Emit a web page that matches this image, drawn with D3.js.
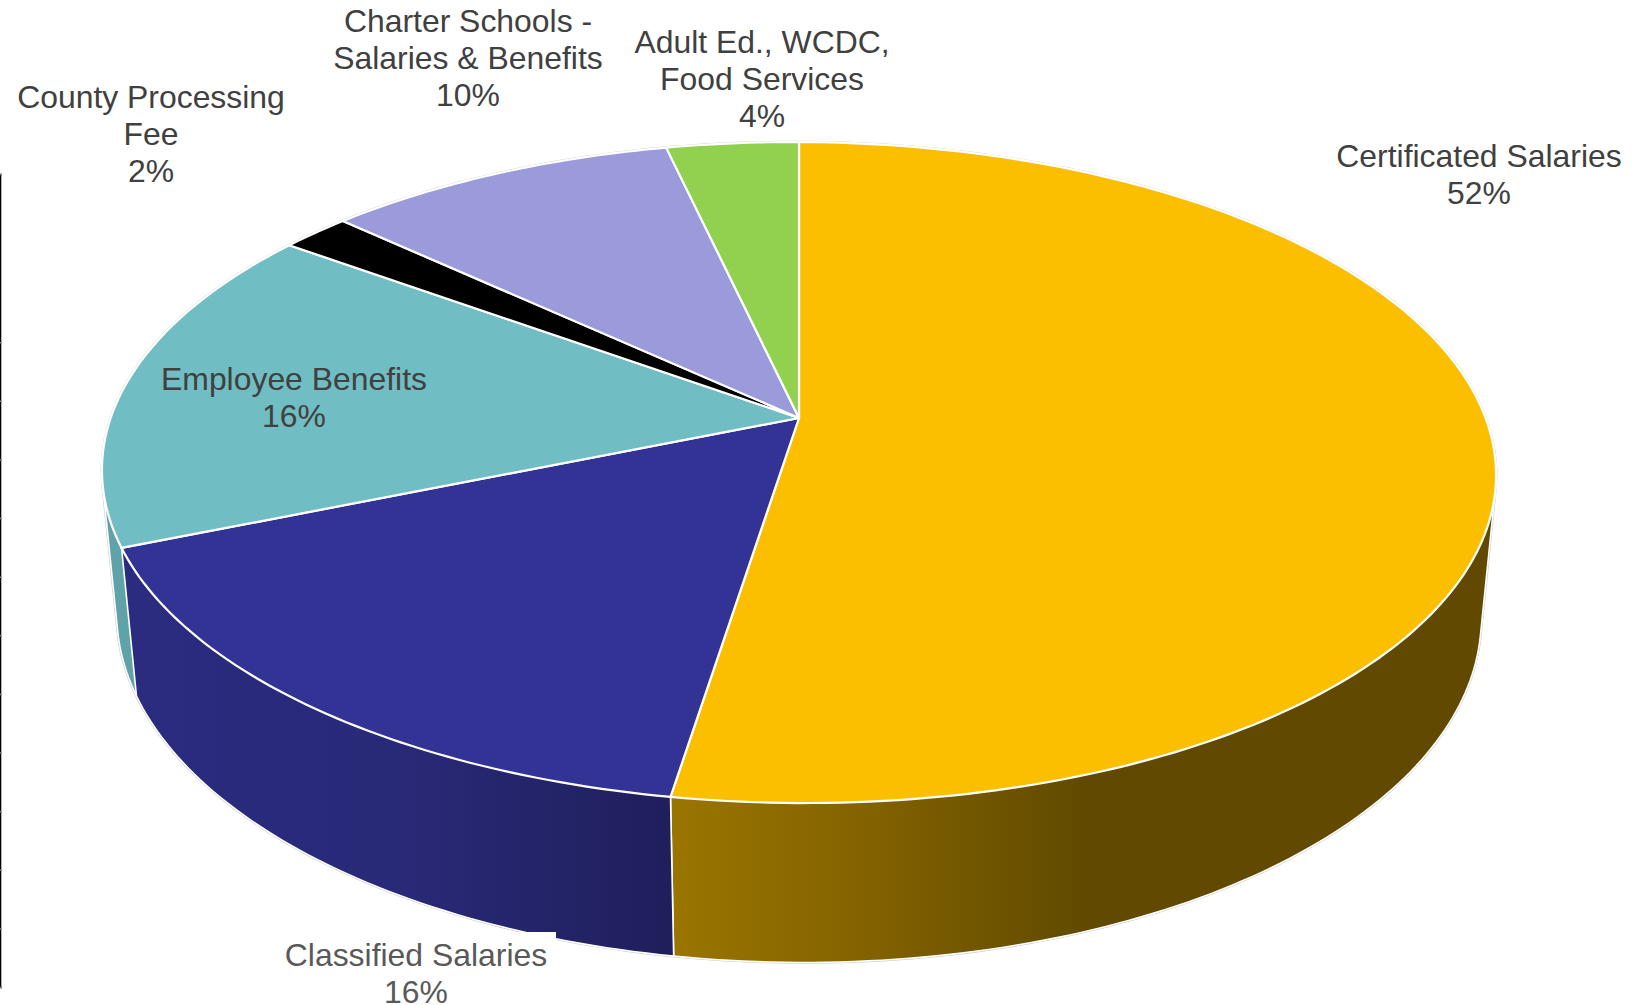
<!DOCTYPE html>
<meta charset="utf-8">
<html>
<head>
<style>
  html, body { margin: 0; padding: 0; background: #fff; }
  svg { display: block; }
  text { font-family: "Liberation Sans", Arial, sans-serif; font-size: 31.9px; text-anchor: middle; }
</style>
</head>
<body>
<div id="chartContainer"></div>
<script src="https://d3js.org/d3.v7.min.js"></script>
<script>
// values, in drawing order (clockwise from 12 o'clock)
var categories = ["Certificated Salaries", "Classified Salaries", "Employee Benefits", "County Processing Fee", "Charter Schools - Salaries & Benefits", "Adult Ed., WCDC, Food Services"];
var shares = [52.5, 16.2, 16.2, 1.9, 9.6, 3.6];
var percentLabels = ["52%", "16%", "16%", "2%", "10%", "4%"];
var labelLines = [
  ["Certificated Salaries"],
  ["Classified Salaries"],
  ["Employee Benefits"],
  ["County Processing", "Fee"],
  ["Charter Schools -", "Salaries & Benefits"],
  ["Adult Ed., WCDC,", "Food Services"]
];
var topColors = ["#fbbf00", "#333396", "#70bdc3", "#000000", "#9b9bdb", "#92d050"];
var labelColors = ["#404040", "#595959", "#404040", "#404040", "#404040", "#404040"];
var labelX = [1479, 416, 294, 151, 468, 762];
var labelY = [167, 966, 390, 108, 32, 90 - 37];
var edgeTicks = [0, 1, 2, 3, 4, 5, 6, 7, 8, 9, 10, 11, 13.87];

var width = 1649, height = 1005;
var svg = d3.select("#chartContainer").append("svg").attr("width", width).attr("height", height);
var defs = svg.append("defs");

// perspective of the 3d pie
var cx = 799, cy = 418, A = 687.5, B = 321.5, C = 144.6, k = 0.165, m = 0.0211, shear = 0.0036;
function project(a, z) {
  var u = Math.sin(a), v = -Math.cos(a), w = 1 - k * v + m * z;
  var x = A * u / w, y = (B * v + C * z) / w;
  return [cx + x, cy + y + shear * x];
}
function arcPoints(a0, a1, z) {
  var n = Math.max(2, Math.ceil((a1 - a0) / (Math.PI / 180))), pts = [];
  for (var i = 0; i <= n; i++) pts.push(project(a0 + (a1 - a0) * i / n, z));
  return pts;
}
var line = d3.line();
var arcs = d3.pie().sort(null)(shares);

// left edge line with its small grey ticks
var edge = d3.scaleLinear().domain([0, 13.87]).range([987, 174]);
var edgeAxis = svg.append("g").call(d3.axisRight(edge).tickValues(edgeTicks).tickSizeOuter(0).tickSize(2).tickFormat(""));
edgeAxis.select("path").attr("stroke", "#000").attr("stroke-width", 1.6);
edgeAxis.selectAll("line").attr("stroke", "#888").attr("stroke-width", 1.5);

// outer wall, lit from the left of the front
function wallGradient(id, stops) {
  var x0 = stops[0][0], x1 = stops[stops.length - 1][0];
  var g = defs.append("linearGradient").attr("id", id).attr("gradientUnits", "userSpaceOnUse")
    .attr("x1", x0).attr("x2", x1).attr("y1", 0).attr("y2", 0);
  stops.forEach(function (s) {
    g.append("stop").attr("offset", (s[0] - x0) / (x1 - x0)).attr("stop-color", s[1]);
  });
}
wallGradient("wall0", [[670, "#9a7500"], [830, "#886600"], [1085, "#614a00"]]);
wallGradient("wall1", [[130, "#2b2b80"], [400, "#292978"], [672, "#1f1f5c"]]);

var wallFill = ["url(#wall0)", "url(#wall1)", "#5fa3a8"];

// faint grey halo round the whole pie
var all = arcPoints(0, 2 * Math.PI, 0).concat(arcPoints(0, 2 * Math.PI, 1));
svg.append("path").attr("d", line(d3.polygonHull(all)) + "Z")
  .attr("fill", "none").attr("stroke", "#c8c8c8").attr("stroke-width", 2.6);

var walls = svg.append("g");
[2, 0, 1].forEach(function (i) {
  var a = arcs[i];
  var pts = arcPoints(a.startAngle, a.endAngle, 0).concat(arcPoints(a.startAngle, a.endAngle, 1));
  walls.append("path").attr("d", line(d3.polygonHull(pts)) + "Z")
    .attr("fill", wallFill[i]).attr("stroke", "#fff").attr("stroke-width", 1.6).attr("stroke-linejoin", "round");
});

// top face
svg.append("g").selectAll("path").data(arcs).enter().append("path")
  .attr("d", function (a) {
    return line([[cx, cy]].concat(arcPoints(a.startAngle, a.endAngle, 0))) + "Z";
  })
  .attr("fill", function (a, i) { return topColors[i]; })
  .attr("stroke", "#fff").attr("stroke-width", 2.2).attr("stroke-linejoin", "round");

// white box behind the classified label, it bites into the wall
svg.append("rect").attr("x", 275).attr("y", 932).attr("width", 281).attr("height", 73).attr("fill", "#fff");

// labels
var labels = svg.append("g").selectAll("text").data(categories).enter().append("text")
  .attr("fill", function (d, i) { return labelColors[i]; });
labels.each(function (d, i) {
  var t = d3.select(this);
  labelLines[i].concat([percentLabels[i]]).forEach(function (s, j) {
    t.append("tspan").attr("x", labelX[i]).attr("y", labelY[i] + j * 36.8).text(s);
  });
});
</script>
</body>
</html>
